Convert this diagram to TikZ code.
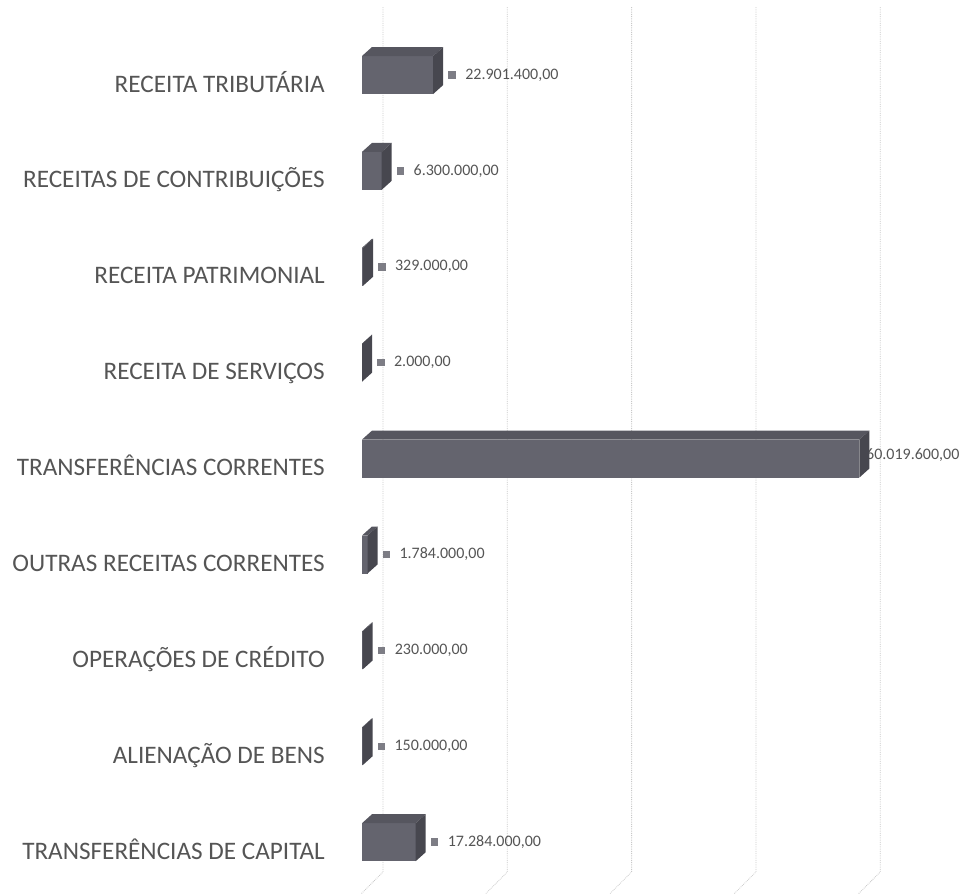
\documentclass[tikz,border=0pt]{standalone}
\usepackage{fontspec}
\setmainfont{Carlito}
\usetikzlibrary{positioning}

\definecolor{barfront}{HTML}{64646E}
\definecolor{bartop}{HTML}{56565F}
\definecolor{barside}{HTML}{47474F}
\definecolor{labelgray}{HTML}{555555}
\definecolor{gridgray}{HTML}{C8C8C8}
\definecolor{keygray}{HTML}{7D7D85}

% 3D bar: #1 name, #2 y of centre, #3 length of the front face
\newcommand{\barra}[3]{%
  \fill[barfront] (362,{#2-19}) rectangle ({362+#3},{#2+19});
  \fill[bartop] (362,{#2-19}) -- ({362+#3},{#2-19}) -- ({372+#3},{#2-28}) -- (372,{#2-28}) -- cycle;
  \fill[barside] ({362+#3},{#2-19}) -- ({372+#3},{#2-28}) -- ({372+#3},{#2+10}) -- ({362+#3},{#2+19}) -- cycle;
  \coordinate (#1) at ({372+#3},#2);
}

\begin{document}
\begin{tikzpicture}[x=1pt,y=-1pt,
    catlabel/.style={anchor=base east, text=labelgray, inner sep=0pt,
      font=\fontsize{25.2}{25.2}\selectfont},
    vallabel/.style={anchor=west, text=labelgray, inner sep=0pt,
      font=\fontsize{16}{16}\selectfont},
    valkey/.style={fill=keygray, minimum size=7.5pt, inner sep=0pt},
    gridline/.style={gridgray, densely dotted, line width=0.8pt}]
  \useasboundingbox (0,0) rectangle (972,894);

  % back wall grid and floor
  \foreach \k in {0,...,4}
    \draw[gridline] ({383+124.3*\k},7) -- ({383+124.3*\k},872) -- ({361+124.3*\k},894);

  % the long bar, its value partly hidden
  \node[vallabel] (transfcor-val) at (866,455) {60.019.600,00};
  \barra{transfcor}{458.6}{497.3}
  \node[catlabel] (transfcor-cat) at (325,475.6) {TRANSFERÊNCIAS CORRENTES};

  % the other bars
  \foreach \nm/\yc/\len/\cat/\txt in {
      trib/75/71.2/{RECEITA TRIBUTÁRIA}/{22.901.400,00},
      contrib/170.9/19.6/{RECEITAS DE CONTRIBUIÇÕES}/{6.300.000,00},
      patrim/266.8/1.0/{RECEITA PATRIMONIAL}/{329.000,00},
      serv/362.7/0.01/{RECEITA DE SERVIÇOS}/{2.000,00},
      outras/554.5/5.5/{OUTRAS RECEITAS CORRENTES}/{1.784.000,00},
      opcred/650.4/0.7/{OPERAÇÕES DE CRÉDITO}/{230.000,00},
      alien/746.3/0.5/{ALIENAÇÃO DE BENS}/{150.000,00},
      transfcap/842.2/53.7/{TRANSFERÊNCIAS DE CAPITAL}/{17.284.000,00}}{
    \barra{\nm}{\yc}{\len}
    \node[catlabel] (\nm-cat) at (325,{\yc+17}) {\cat};
    \node[valkey] (\nm-key) [right=5pt of \nm] {};
    \node[vallabel] (\nm-val) [right=9pt of \nm-key] {\txt};
  }
\end{tikzpicture}
\end{document}
